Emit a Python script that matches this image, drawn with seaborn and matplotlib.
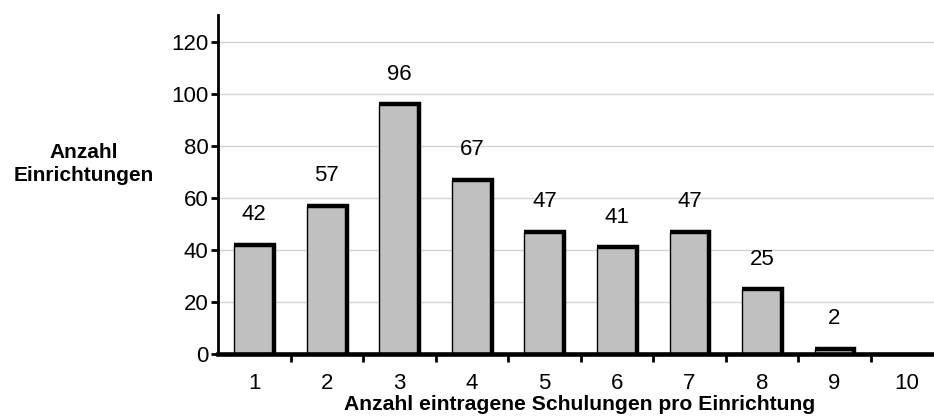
import matplotlib
matplotlib.use("Agg")
import matplotlib.pyplot as plt
import seaborn as sns
import pandas as pd
from matplotlib.lines import Line2D

categories = ["1", "2", "3", "4", "5", "6", "7", "8", "9", "10"]
counts = [42, 57, 96, 67, 47, 41, 47, 25, 2, 0]
y_ticks = [0, 20, 40, 60, 80, 100, 120]

df = pd.DataFrame({"Schulungen": categories, "Anzahl": counts})

sns.set_style("white")
plt.rcParams["font.family"] = ["Liberation Sans", "DejaVu Sans"]
plt.rcParams["text.color"] = "black"
plt.rcParams["xtick.color"] = "black"
plt.rcParams["ytick.color"] = "black"
plt.rcParams["xtick.labelcolor"] = "black"
plt.rcParams["ytick.labelcolor"] = "black"

fig = plt.figure(figsize=(9.34, 4.16), dpi=100)
ax = fig.add_axes([218 / 934, 62 / 416, 1 - 218 / 934 + 0.01, (354 - 15) / 416])

sns.barplot(data=df, x="Schulungen", y="Anzahl", order=categories,
            color="#c0c0c0", edgecolor="black", linewidth=1.0,
            width=0.55, saturation=1, ax=ax, zorder=3)

# heavy shadow edge on top and right side of each bar
for p in ax.patches:
    x0, y0 = p.get_x(), p.get_y()
    w, h = p.get_width(), p.get_height()
    if h <= 0:
        continue
    ax.add_line(Line2D([x0, x0 + w, x0 + w], [y0 + h, y0 + h, y0],
                       color="black", lw=3.2, solid_joinstyle="miter",
                       solid_capstyle="butt", zorder=4))

# value labels above the bars
for i, v in enumerate(counts):
    if v > 0:
        ax.annotate(str(v), (i, v), xytext=(0, 21.5), textcoords="offset points",
                    ha="center", va="center", fontsize=16, color="black")

ax.set_ylim(0, 130.4)
ax.set_xlim(-0.5, 9.42)
ax.set_yticks(y_ticks)
ax.set_yticklabels([str(t) for t in y_ticks], fontsize=16)
ax.yaxis.grid(True, color="#d3d3d3", linewidth=1.0, zorder=0)
ax.set_axisbelow(True)

# category labels without marks, boundary ticks between categories
ax.set_xticks(range(len(categories)))
ax.set_xticklabels(categories, fontsize=16)
ax.tick_params(axis="x", which="both", bottom=True)
ax.tick_params(axis="x", which="major", length=0, pad=14)
ax.set_xticks([i + 0.5 for i in range(len(categories))], minor=True)
ax.tick_params(axis="x", which="minor", length=6, width=2, direction="out", color="black")
ax.tick_params(axis="y", left=True, length=5, width=2, direction="out", color="black", pad=2)

for s in ["top", "right"]:
    ax.spines[s].set_visible(False)
ax.spines["left"].set_linewidth(2)
ax.spines["left"].set_color("black")
ax.spines["bottom"].set_linewidth(3.3)
ax.spines["bottom"].set_color("black")
ax.spines["bottom"].set_zorder(5)

ax.set_xlabel("")
ax.set_ylabel("")
fig.text(84 / 934, 1 - 164 / 416, "Anzahl\nEinrichtungen", ha="center", va="center",
         fontsize=15, fontweight="bold", linespacing=1.25, color="black")
fig.text(580 / 934, 1 - 404 / 416, "Anzahl eintragene Schulungen pro Einrichtung",
         ha="center", va="center", fontsize=15.2, fontweight="bold", color="black")

fig.savefig("out.png", dpi=100)
